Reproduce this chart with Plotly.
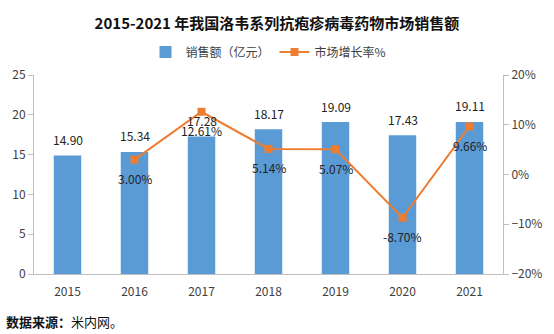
import plotly.graph_objects as go

years = ["2015", "2016", "2017", "2018", "2019", "2020", "2021"]
sales = [14.90, 15.34, 17.28, 18.17, 19.09, 17.43, 19.11]
growth_years = ["2016", "2017", "2018", "2019", "2020", "2021"]
growth = [3.00, 12.61, 5.14, 5.07, -8.70, 9.66]

FONT = "Noto Sans CJK SC, Liberation Sans, sans-serif"
BLUE = "#5B9BD5"
ORANGE = "#ED7D31"
TXT = "#404040"

fig = go.Figure()
fig.add_trace(go.Bar(
    x=years, y=sales, name="销售额（亿元）",
    marker=dict(color=BLUE, line=dict(width=0)),
    width=0.41,
))
fig.add_trace(go.Scatter(
    x=growth_years, y=[g / 100 for g in growth], name="市场增长率%",
    yaxis="y2", mode="lines+markers",
    line=dict(color=ORANGE, width=2),
    marker=dict(symbol="square", size=8, color=ORANGE),
    cliponaxis=False,
))

annotations = []
for x, v in zip(years, sales):
    annotations.append(dict(x=years.index(x), y=v, xref="x", yref="y", text=f"{v:.2f}",
                            showarrow=False, yshift=16, yanchor="middle",
                            font=dict(size=12, color="#222222", family=FONT)))
for x, g in zip(growth_years, growth):
    annotations.append(dict(x=years.index(x), y=g / 100, xref="x", yref="y2", text=f"{g:.2f}%",
                            showarrow=False, yshift=-19, yanchor="middle",
                            font=dict(size=12, color="#222222", family=FONT)))
annotations.append(dict(text="<b>数据来源：</b>米内网。", xref="paper", yref="paper",
                        x=-0.065, y=-0.241, xanchor="left", yanchor="middle",
                        showarrow=False, font=dict(size=13, color="#111111", family=FONT)))

fig.update_layout(
    width=554, height=334,
    margin=dict(l=33, r=47, t=75, b=60),
    paper_bgcolor="white", plot_bgcolor="white",
    font=dict(family=FONT, color=TXT, size=12),
    title=dict(text="<b>2015-2021 年我国洛韦系列抗疱疹病毒药物市场销售额</b>",
               x=0.5, xanchor="center", y=0.93, yanchor="middle",
               font=dict(size=15, color="#111111", family=FONT)),
    legend=dict(orientation="h", x=0.5, xanchor="center", y=1.115, yanchor="middle",
                font=dict(size=12, color=TXT), itemwidth=30, bgcolor="rgba(0,0,0,0)"),
    bargap=0.59,
    xaxis=dict(type="category", categoryorder="array", categoryarray=years,
               range=[-0.5, len(years) - 0.5],
               showline=True, linecolor="#BFBFBF", linewidth=1, ticks="",
               ticklabelstandoff=7,
               tickfont=dict(size=12, color=TXT), showgrid=False),
    yaxis=dict(range=[0, 25], dtick=5, showgrid=False, showline=True,
               linecolor="#BFBFBF", ticks="outside", tickcolor="#BFBFBF", ticklen=5,
               tickfont=dict(size=12, color=TXT), zeroline=False),
    yaxis2=dict(range=[-0.2, 0.2], dtick=0.1, tickformat=".0%", overlaying="y",
                side="right", showgrid=False, showline=True, linecolor="#BFBFBF",
                ticks="outside", tickcolor="#BFBFBF", ticklen=5, zeroline=False,
                tickfont=dict(size=12, color=TXT)),
    annotations=annotations,
)

fig.write_html("out.html")
